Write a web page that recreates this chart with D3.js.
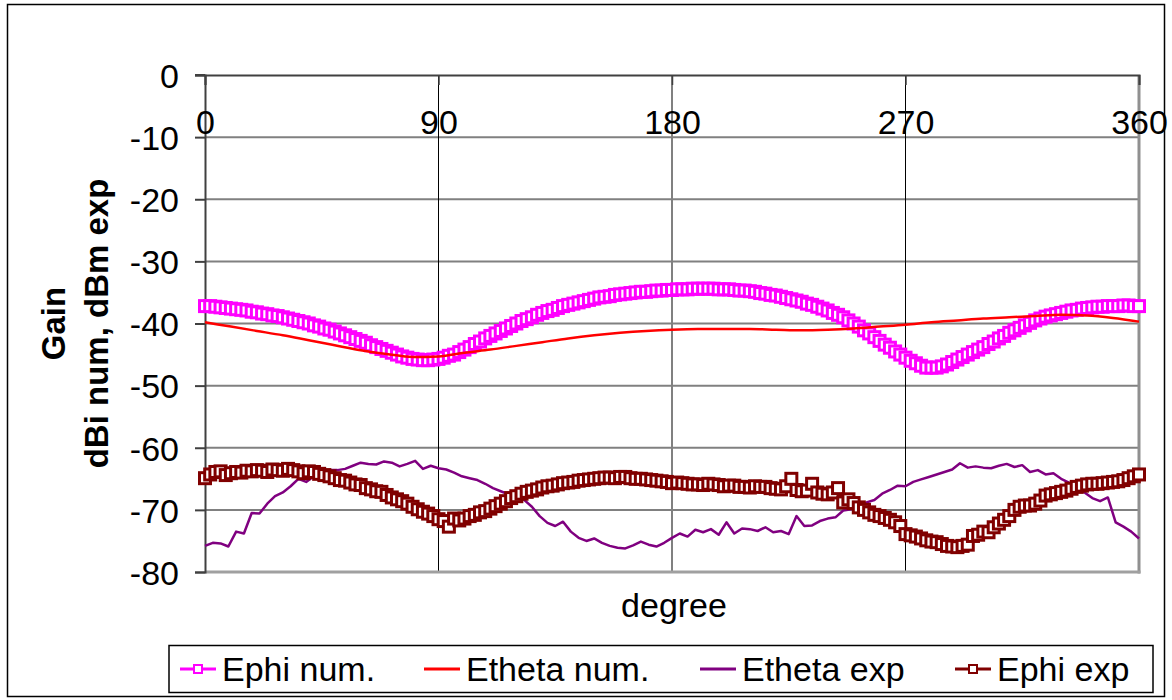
<!DOCTYPE html>
<html><head><meta charset="utf-8">
<script src="https://cdn.jsdelivr.net/npm/d3@7"></script>
<style>body{margin:0;background:#fff} text{font-family:"Liberation Sans",Arial,sans-serif;fill:#000}</style>
</head><body><svg id="c" width="1172" height="700"></svg>
<script>
// ---- data ----
// Ephi num. and Ephi exp are sampled every 2 degrees, Etheta exp every 3, Etheta num. every 10
const ephiNum = [-37.2,-37.2,-37.3,-37.4,-37.5,-37.6,-37.7,-37.8,-37.9,-38.1,-38.2,-38.4,-38.5,-38.7,-38.8,-39.0,-39.2,-39.4,-39.6,-39.8,-40.0,-40.3,-40.5,-40.8,-41.0,-41.3,-41.6,-41.9,-42.2,-42.5,-42.8,-43.1,-43.5,-43.8,-44.1,-44.4,-44.7,-45.0,-45.3,-45.5,-45.7,-45.8,-45.9,-45.9,-45.8,-45.7,-45.5,-45.2,-45.0,-44.6,-44.2,-43.8,-43.3,-42.9,-42.4,-42.0,-41.6,-41.2,-40.8,-40.4,-40.0,-39.6,-39.3,-39.0,-38.6,-38.3,-38.0,-37.8,-37.5,-37.2,-37.0,-36.8,-36.6,-36.4,-36.2,-36.0,-35.8,-35.7,-35.6,-35.4,-35.3,-35.2,-35.1,-35.0,-34.9,-34.9,-34.8,-34.7,-34.7,-34.6,-34.6,-34.5,-34.5,-34.5,-34.4,-34.4,-34.4,-34.4,-34.4,-34.5,-34.5,-34.5,-34.6,-34.7,-34.7,-34.8,-34.9,-35.1,-35.2,-35.4,-35.5,-35.7,-35.9,-36.1,-36.3,-36.5,-36.8,-37.0,-37.3,-37.6,-37.9,-38.3,-38.6,-39.0,-39.5,-40.0,-40.5,-41.1,-41.6,-42.2,-42.8,-43.4,-43.9,-44.5,-45.0,-45.5,-46.0,-46.4,-46.8,-47.1,-47.1,-47.1,-46.9,-46.6,-46.2,-45.8,-45.4,-45.0,-44.6,-44.2,-43.8,-43.3,-42.9,-42.4,-42.0,-41.5,-41.1,-40.7,-40.3,-39.9,-39.5,-39.2,-38.9,-38.7,-38.5,-38.3,-38.1,-37.9,-37.8,-37.6,-37.5,-37.4,-37.3,-37.3,-37.2,-37.2,-37.2,-37.1,-37.1,-37.2,-37.2];
const ethetaNum = [-39.8,-40.5,-41.2,-41.9,-42.7,-43.5,-44.3,-44.9,-45.4,-45.3,-44.7,-44.2,-43.6,-43.0,-42.4,-41.9,-41.5,-41.2,-41.0,-40.9,-40.9,-40.9,-41.0,-41.1,-41.0,-40.8,-40.5,-40.2,-39.8,-39.5,-39.2,-39.0,-38.8,-38.6,-38.7,-39.1,-39.7];
const ethetaExp = [-75.8,-75.3,-75.4,-75.9,-73.5,-73.8,-70.5,-70.6,-69.0,-67.8,-67.2,-66.2,-65.0,-65.5,-64.6,-64.0,-63.6,-63.6,-63.4,-62.9,-62.4,-62.6,-62.7,-62.2,-62.4,-63.0,-62.6,-62.1,-63.4,-62.9,-63.3,-63.5,-64.0,-64.6,-64.9,-65.2,-65.8,-66.5,-67.0,-67.5,-66.8,-68.4,-69.5,-71.0,-72.1,-72.6,-71.9,-73.5,-74.5,-75.0,-74.6,-75.3,-75.8,-76.1,-76.2,-75.7,-75.1,-75.6,-75.9,-75.3,-74.5,-73.8,-74.3,-73.2,-73.6,-73.1,-74.0,-72.0,-73.8,-73.0,-73.1,-73.4,-72.8,-73.6,-73.4,-73.9,-71.0,-72.6,-72.5,-71.8,-71.4,-71.2,-70.1,-69.9,-69.7,-68.8,-68.4,-67.4,-66.8,-66.1,-66.2,-65.5,-65.1,-64.7,-64.3,-63.9,-63.5,-62.5,-63.2,-63.0,-63.2,-63.3,-62.9,-62.6,-63.1,-62.8,-63.9,-63.6,-64.3,-64.1,-65.0,-65.6,-66.1,-67.2,-68.1,-68.6,-68.0,-72.0,-72.7,-73.5,-74.6];
const ephiExp = [-64.9,-64.3,-63.9,-63.8,-64.4,-64.1,-63.9,-64.0,-63.7,-63.8,-63.6,-63.7,-63.9,-63.5,-63.6,-63.7,-63.4,-63.6,-63.8,-64.1,-63.8,-63.9,-64.2,-64.4,-64.6,-64.9,-65.2,-65.3,-65.6,-65.9,-66.0,-66.5,-66.7,-67.0,-67.1,-67.6,-68.0,-68.3,-68.6,-69.0,-69.5,-69.9,-70.3,-70.6,-71.0,-71.5,-71.8,-72.7,-71.4,-71.7,-71.4,-71.0,-70.8,-70.4,-70.2,-69.8,-69.4,-69.0,-68.6,-68.1,-67.8,-67.4,-67.1,-66.9,-66.7,-66.4,-66.2,-66.1,-65.9,-65.7,-65.6,-65.5,-65.3,-65.2,-65.1,-65.0,-64.9,-64.8,-64.8,-64.9,-64.7,-64.7,-64.9,-65.0,-65.0,-65.1,-65.2,-65.3,-65.4,-65.5,-65.7,-65.6,-65.7,-65.8,-65.9,-65.9,-66.0,-65.8,-65.9,-66.0,-66.2,-66.1,-66.1,-66.3,-66.3,-66.4,-66.2,-66.3,-66.3,-66.5,-66.6,-66.7,-66.2,-65.0,-66.8,-67.0,-66.9,-65.8,-67.2,-67.4,-67.5,-67.2,-66.5,-68.8,-68.3,-68.9,-69.6,-70.0,-70.4,-70.8,-71.0,-71.3,-71.6,-72.0,-72.6,-73.9,-74.1,-74.3,-74.6,-74.9,-75.1,-75.2,-75.5,-75.8,-75.9,-76.0,-75.8,-75.6,-74.2,-74.0,-73.5,-73.6,-72.8,-72.2,-71.6,-71.0,-70.0,-69.5,-69.3,-69.3,-69.0,-68.5,-67.7,-67.5,-67.3,-67.1,-66.9,-66.6,-66.3,-66.1,-65.9,-65.8,-65.8,-65.7,-65.6,-65.5,-65.4,-65.2,-64.9,-64.6,-64.3];
const xTicks = [0, 90, 180, 270, 360];
const yTicks = [0, -10, -20, -30, -40, -50, -60, -70, -80];
const seriesNames = ["Ephi num.", "Etheta num.", "Etheta exp", "Ephi exp"];
const seriesColors = ["#FF00FF", "#FF0000", "#800080", "#800000"];
const stepOf = [2, 10, 3, 2];

// ---- drawing ----
const svg = d3.select("#c");
const x = d3.scaleLinear().domain([0, 360]).range([205, 1139]);
const y = d3.scaleLinear().domain([-80, 0]).range([572, 75]);
const FS = 34;
const FONT = '"Liberation Sans",Arial,sans-serif';

svg.append("rect").attr("x", 7.5).attr("y", 4.5).attr("width", 1157).attr("height", 692)
  .attr("fill", "#fff").attr("stroke", "#000").attr("stroke-width", 1.5);

// horizontal gridlines
svg.append("g").selectAll("line").data(yTicks.filter(v => v !== 0 && v !== -80)).join("line")
  .attr("x1", x(0)).attr("x2", x(360)).attr("y1", d => y(d)).attr("y2", d => y(d))
  .attr("stroke", "#808080").attr("stroke-width", 2);
// vertical gridlines
svg.append("g").selectAll("line").data([90, 180, 270]).join("line")
  .attr("x1", d => x(d)).attr("x2", d => x(d)).attr("y1", y(0)).attr("y2", y(-80))
  .attr("stroke", d => d === 180 ? "#808080" : "#000").attr("stroke-width", d => d === 180 ? 2 : 1);
// plot border right & bottom
svg.append("line").attr("x1", x(360)).attr("x2", x(360)).attr("y1", y(0)).attr("y2", y(-80) + 1.5)
  .attr("stroke", "#909090").attr("stroke-width", 3);
svg.append("line").attr("x1", x(0)).attr("x2", x(360) + 1.5).attr("y1", y(-80)).attr("y2", y(-80))
  .attr("stroke", "#a0a0a0").attr("stroke-width", 3);

// y axis
const yAxis = d3.axisLeft(y).tickValues(yTicks).tickSize(10).tickPadding(16).tickFormat(d => String(d));
const gy = svg.append("g").attr("transform", `translate(${x(0)},0)`).call(yAxis);
gy.select(".domain").attr("stroke", "#404040").attr("stroke-width", 2);
gy.selectAll(".tick line").attr("stroke", "#404040").attr("stroke-width", 2);
gy.selectAll(".tick text").style("font-size", FS + "px").style("font-family", FONT).attr("fill", "#000").attr("dy", "0.36em");

// x axis at value 0 (top), labels placed below
const xAxis = d3.axisBottom(x).tickValues(xTicks).tickSize(10).tickPadding(25).tickFormat(d => String(d));
const gx = svg.append("g").attr("transform", `translate(0,${y(0)})`).call(xAxis);
gx.select(".domain").attr("stroke", "#404040").attr("stroke-width", 2);
gx.selectAll(".tick line").attr("stroke", "#404040").attr("stroke-width", 1.5);
gx.selectAll(".tick text").style("font-size", FS + "px").style("font-family", FONT).attr("fill", "#000");
gx.append("line").attr("x1", x(0) - 10).attr("x2", x(0)).attr("y1", 0).attr("y2", 0).attr("stroke", "#404040").attr("stroke-width", 2);

// series
const line = d3.line().x(d => x(d[0])).y(d => y(d[1]));
const smooth = d3.line().x(d => x(d[0])).y(d => y(d[1])).curve(d3.curveMonotoneX);
const pts = (v, step) => v.map((val, i) => [i * step, val]);
const sEphiNum = pts(ephiNum, stepOf[0]);
const sEthetaNum = pts(ethetaNum, stepOf[1]);
const sEthetaExp = pts(ethetaExp, stepOf[2]);
const sEphiExp = pts(ephiExp, stepOf[3]);

const MS = 11;
svg.append("path").attr("d", line(sEphiNum)).attr("fill", "none").attr("stroke", seriesColors[0]).attr("stroke-width", 3);
svg.append("g").selectAll("rect").data(sEphiNum).join("rect")
  .attr("x", d => x(d[0]) - MS / 2).attr("y", d => y(d[1]) - MS / 2).attr("width", MS).attr("height", MS)
  .attr("fill", "#fff").attr("stroke", seriesColors[0]).attr("stroke-width", 3);

svg.append("path").attr("d", smooth(sEthetaNum)).attr("fill", "none").attr("stroke", seriesColors[1]).attr("stroke-width", 2.5);
svg.append("path").attr("d", line(sEthetaExp)).attr("fill", "none").attr("stroke", seriesColors[2]).attr("stroke-width", 2.5).attr("stroke-linejoin", "round");

svg.append("path").attr("d", line(sEphiExp)).attr("fill", "none").attr("stroke", seriesColors[3]).attr("stroke-width", 3);
svg.append("g").selectAll("rect").data(sEphiExp).join("rect")
  .attr("x", d => x(d[0]) - MS / 2).attr("y", d => y(d[1]) - MS / 2).attr("width", MS).attr("height", MS)
  .attr("fill", "#fff").attr("stroke", seriesColors[3]).attr("stroke-width", 3);

// axis titles
const cy = (y(0) + y(-80)) / 2;
const yt = svg.append("g").attr("transform", `translate(0,${cy}) rotate(-90)`);
yt.append("text").attr("x", 0).attr("y", 65).attr("text-anchor", "middle")
  .style("font-size", "33px").style("font-weight", "bold").text("Gain");
yt.append("text").attr("x", 0).attr("y", 108).attr("text-anchor", "middle")
  .style("font-size", "33px").style("font-weight", "bold").text("dBi num, dBm exp");
svg.append("text").attr("x", 674).attr("y", 617).attr("text-anchor", "middle").style("font-size", FS + "px").text("degree");

// legend
svg.append("rect").attr("x", 169).attr("y", 645.5).attr("width", 984).attr("height", 47)
  .attr("fill", "#fff").attr("stroke", "#000").attr("stroke-width", 1.5);
const legX = [180, 424, 700, 955];
const lg = svg.append("g").selectAll("g").data(seriesNames).join("g")
  .attr("transform", (d, i) => `translate(${legX[i]},669)`);
lg.append("line").attr("x1", 0).attr("x2", 36).attr("stroke", (d, i) => seriesColors[i]).attr("stroke-width", 3);
lg.filter((d, i) => i === 0 || i === 3).append("rect").attr("x", 14).attr("y", -4).attr("width", 8).attr("height", 8)
  .attr("fill", "#fff").attr("stroke", (d, i) => i === 0 ? seriesColors[0] : seriesColors[3]).attr("stroke-width", 2);
lg.append("text").attr("x", 42).attr("dy", "0.36em").style("font-size", FS + "px").text(d => d);
</script></body></html>
